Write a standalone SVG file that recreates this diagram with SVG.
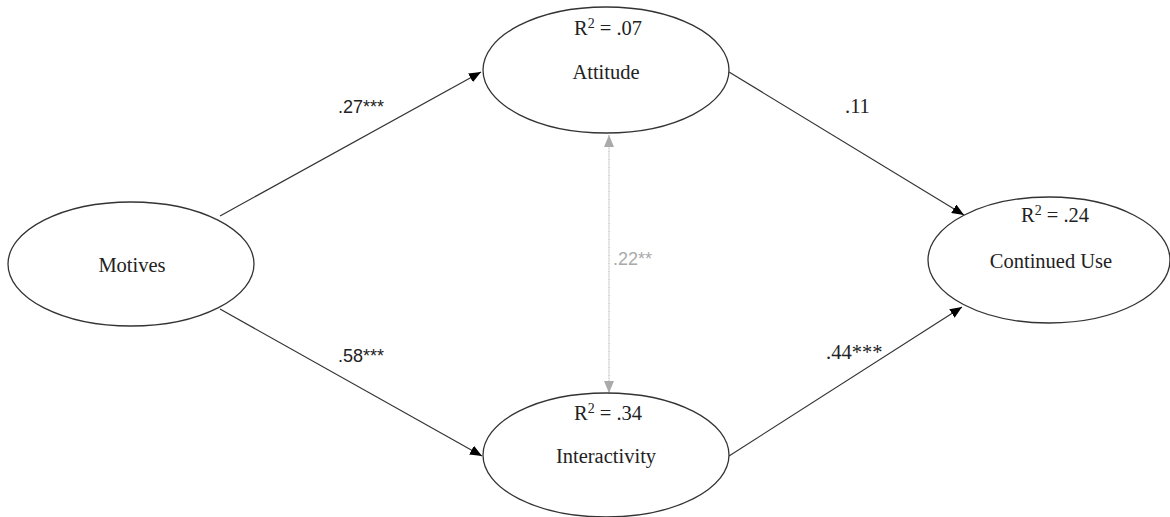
<svg xmlns="http://www.w3.org/2000/svg" width="1170" height="517" viewBox="0 0 1170 517">
  <style>
    .node ellipse { fill: #ffffff; stroke: #333333; stroke-width: 1.3; }
    .name { font-family: "Liberation Serif", "Times New Roman", serif; font-size: 20.5px; fill: #222222; text-anchor: middle; }
    .r2 { font-family: "Liberation Serif", "Times New Roman", serif; font-size: 20.5px; fill: #222222; text-anchor: middle; }
    .sup { font-size: 14px; }
    .path { stroke: #333333; stroke-width: 1.2; fill: none; }
    .cov { stroke: #bbbbbb; stroke-width: 1.2; fill: none; stroke-dasharray: 1 0.6; }
    .lbl-sans { font-family: "Liberation Sans", Arial, sans-serif; font-size: 18px; fill: #222222; }
    .lbl-serif { font-family: "Liberation Serif", "Times New Roman", serif; font-size: 20.5px; fill: #222222; }
    .lbl-gray { font-family: "Liberation Sans", Arial, sans-serif; font-size: 18px; fill: #aaaaaa; }
  </style>
  <defs>
    <marker id="arrow" viewBox="0 0 12 10" refX="12" refY="5" markerWidth="12" markerHeight="10" markerUnits="userSpaceOnUse" orient="auto">
      <path d="M0,0 L12,5 L0,10 Z" fill="#000000"/>
    </marker>
    <marker id="arrowGray" viewBox="0 0 12 10" refX="12" refY="5" markerWidth="12" markerHeight="10" markerUnits="userSpaceOnUse" orient="auto-start-reverse">
      <path d="M0,0 L12,5 L0,10 Z" fill="#aaaaaa"/>
    </marker>
  </defs>

  <rect width="1170" height="517" fill="#ffffff"/>

  <!-- connectors -->
  <g id="connectors">
    <line class="path" x1="220" y1="216" x2="481" y2="72" marker-end="url(#arrow)"/>
    <line class="path" x1="220" y1="309" x2="482" y2="456" marker-end="url(#arrow)"/>
    <line class="path" x1="729" y1="72" x2="964" y2="215" marker-end="url(#arrow)"/>
    <line class="path" x1="729" y1="456" x2="962" y2="307" marker-end="url(#arrow)"/>
    <line class="cov" x1="609" y1="135" x2="609" y2="393" marker-start="url(#arrowGray)" marker-end="url(#arrowGray)"/>
    <text class="lbl-sans" x="338" y="113">.27***</text>
    <text class="lbl-sans" x="338" y="362">.58***</text>
    <text class="lbl-serif" x="845" y="113">.11</text>
    <text class="lbl-serif" x="826" y="359">.44***</text>
    <text class="lbl-gray" x="613" y="265">.22**</text>
  </g>

  <g id="motives" class="node">
    <ellipse cx="131" cy="264" rx="123" ry="62"/>
    <text class="name" x="132" y="272">Motives</text>
  </g>

  <g id="attitude" class="node">
    <ellipse cx="606" cy="70" rx="123" ry="63"/>
    <text class="r2" x="608" y="35">R<tspan class="sup" dy="-7">2</tspan><tspan dy="7"> = .07</tspan></text>
    <text class="name" x="606" y="79">Attitude</text>
  </g>

  <g id="interactivity" class="node">
    <ellipse cx="606" cy="455" rx="123" ry="62"/>
    <text class="r2" x="608" y="420">R<tspan class="sup" dy="-7">2</tspan><tspan dy="7"> = .34</tspan></text>
    <text class="name" x="606" y="463">Interactivity</text>
  </g>

  <g id="continued-use" class="node">
    <ellipse cx="1049" cy="260" rx="121" ry="63"/>
    <text class="r2" x="1055" y="222">R<tspan class="sup" dy="-7">2</tspan><tspan dy="7"> = .24</tspan></text>
    <text class="name" x="1051" y="268">Continued Use</text>
  </g>
</svg>
